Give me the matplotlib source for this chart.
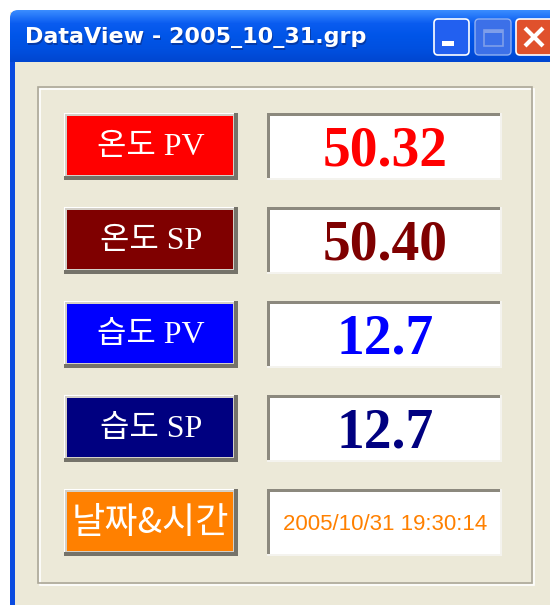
import numpy as np
import matplotlib.pyplot as plt
from matplotlib.patches import Rectangle, FancyBboxPatch
from matplotlib.colors import LinearSegmentedColormap

# dialog content
title = "DataView - 2005_10_31.grp"
labels = ['온도 PV', '온도 SP', '습도 PV', '습도 SP', '날짜&시간']
values = ['50.32', '50.40', '12.7', '12.7', '2005/10/31 19:30:14']
row_colors = ['#FF0000', '#7F0000', '#0000FF', '#000080', '#FF8000']

W, H = 550, 605
BODY = '#ECE9D8'
LIGHT = '#FFFFFF'
DARK = '#75736A'

fig = plt.figure(figsize=(W / 100, H / 100), dpi=100, facecolor='white')
ax = fig.add_axes([0, 0, 1, 1])
ax.set_xlim(0, W)
ax.set_ylim(H, 0)
ax.axis('off')


def box(x, y, w, h, color, z=1):
    ax.add_patch(Rectangle((x, y), w, h, facecolor=color, edgecolor='none',
                           linewidth=0, zorder=z))


def raised(x, y, w, h, fill):
    # light top/left, dark bottom/right
    box(x, y, w, h, DARK, 2)
    box(x, y, w - 4, h - 4, LIGHT, 2)
    box(x + 1, y + 1, w - 5, h - 5, '#D4D0C8', 2)
    box(x + 3, y + 3, w - 8, h - 8, fill, 3)


def sunken(x, y, w, h):
    box(x, y, w, h, '#F4F3EE', 2)
    box(x, y, w - 2, h - 2, '#8C897E', 2)
    box(x + 3, y + 3, w - 5, h - 5, 'white', 3)


# window body and frame
box(10, 12, W - 10, H - 12, BODY, 0)
box(10, 40, 5, H - 40, '#0A4BE0', 1)

# title bar gradient
grad = np.linspace(0, 1, 60).reshape(-1, 1)
cmap = LinearSegmentedColormap.from_list(
    'xp', ['#3A8CFF', '#0A5CF0', '#0055E8', '#0050E0', '#0046D0'])
frame = FancyBboxPatch((10, 10), W, 60, boxstyle='round,pad=0,rounding_size=8',
                       facecolor='none', edgecolor='none')
ax.add_patch(frame)
img = ax.imshow(grad, cmap=cmap, aspect='auto', extent=[10, W, 62, 10],
                zorder=1, interpolation='bilinear')
img.set_clip_path(frame)
ax.set_xlim(0, W)
ax.set_ylim(H, 0)

ax.text(26, 39, title, color='#0A2A80', fontsize=16, fontweight='bold',
        family='DejaVu Sans', va='center', ha='left', zorder=4, alpha=0.6)
ax.text(25, 38, title, color='white', fontsize=16, fontweight='bold',
        family='DejaVu Sans', va='center', ha='left', zorder=5)

# caption buttons
ax.add_patch(FancyBboxPatch((434, 19), 35, 36, boxstyle='round,pad=0,rounding_size=4',
                            facecolor='#2260F0', edgecolor='white', linewidth=1.2, zorder=4))
box(442, 41, 12, 5, 'white', 5)
ax.add_patch(FancyBboxPatch((475, 19), 36, 36, boxstyle='round,pad=0,rounding_size=4',
                            facecolor='#3C70E8', edgecolor='#8FB0F2', linewidth=1.0, zorder=4))
ax.add_patch(Rectangle((484, 30), 19, 16, facecolor='none', edgecolor='#7E9EEA',
                       linewidth=1.2, zorder=5))
box(484, 30, 19, 3, '#7E9EEA', 5)
ax.add_patch(FancyBboxPatch((516, 19), 40, 36, boxstyle='round,pad=0,rounding_size=4',
                            facecolor='#E0512C', edgecolor='white', linewidth=1.2, zorder=4))
ax.plot([525, 543], [28, 46], color='white', linewidth=3, zorder=5, solid_capstyle='butt')
ax.plot([525, 543], [46, 28], color='white', linewidth=3, zorder=5, solid_capstyle='butt')

# group box (etched)
ax.add_patch(Rectangle((40, 89), 494, 496, facecolor='none', edgecolor='white',
                       linewidth=1.2, zorder=1))
ax.add_patch(Rectangle((38, 87), 494, 496, facecolor='none', edgecolor='#ACA899',
                       linewidth=1.2, zorder=1))

# rows
top, pitch, rh = 113, 94, 67
for i, (lab, val, col) in enumerate(zip(labels, values, row_colors)):
    y = top + i * pitch
    cy = y + rh / 2
    raised(64, y, 174, rh, col)
    sunken(267, y, 235, rh)
    if i < 4:
        ax.text(151, cy + 1, lab, color='white', fontsize=23,
                family=['Liberation Serif', 'Noto Sans CJK KR'],
                ha='center', va='center', zorder=6)
        ax.text(385, y + 52, val, color=col, fontsize=40, fontweight='bold',
                family='Liberation Serif', ha='center', va='baseline', zorder=6)
    else:
        ax.text(150, cy, lab, color='white', fontsize=26,
                family=['Noto Sans CJK KR', 'DejaVu Sans'],
                ha='center', va='center', zorder=6)
        ax.text(385, cy + 8, val, color=col, fontsize=16,
                family='Liberation Sans', ha='center', va='baseline', zorder=6)

fig.savefig('out.png', dpi=100, facecolor='white')
